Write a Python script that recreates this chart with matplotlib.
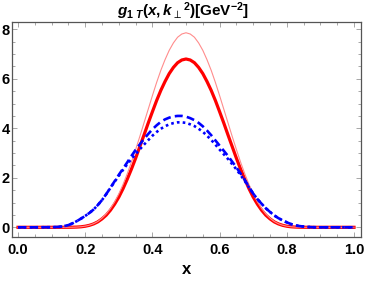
import matplotlib
matplotlib.use("Agg")
import matplotlib.pyplot as plt
from matplotlib.ticker import MultipleLocator

plt.rcParams['font.family'] = ['Liberation Sans', 'DejaVu Sans']
plt.rcParams['mathtext.fontset'] = 'custom'
plt.rcParams['mathtext.rm'] = 'Liberation Sans:bold'
plt.rcParams['mathtext.it'] = 'Liberation Sans:bold:italic'
plt.rcParams['mathtext.bf'] = 'Liberation Sans:bold'

# x grid
x = [0.0, 0.05, 0.1,
     0.1125, 0.125, 0.1375, 0.15, 0.1625, 0.175, 0.1875, 0.2,
     0.2125, 0.225, 0.2375, 0.25, 0.2625, 0.275, 0.2875, 0.3,
     0.3125, 0.325, 0.3375, 0.35, 0.3625, 0.375, 0.3875, 0.4,
     0.4125, 0.425, 0.4375, 0.45, 0.4625, 0.475, 0.4875, 0.5,
     0.5125, 0.525, 0.5375, 0.55, 0.5625, 0.575, 0.5875, 0.6,
     0.6125, 0.625, 0.6375, 0.65, 0.6625, 0.675, 0.6875, 0.7,
     0.7125, 0.725, 0.7375, 0.75, 0.7625, 0.775, 0.7875, 0.8,
     0.8125, 0.825, 0.8375, 0.85, 0.8625, 0.875, 0.8875,
     0.9, 0.95, 1.0]

# thin light-red curve
red_thin = [0, 0, 0,
            0, 0, 0.0003, 0.001, 0.0035, 0.0095, 0.022, 0.046,
            0.085, 0.146, 0.235, 0.37, 0.54, 0.76, 1.03, 1.35,
            1.73, 2.16, 2.63, 3.14, 3.67, 4.22, 4.77, 5.32,
            5.85, 6.34, 6.77, 7.15, 7.45, 7.68, 7.81, 7.86,
            7.81, 7.68, 7.45, 7.15, 6.77, 6.34, 5.85, 5.32,
            4.77, 4.22, 3.67, 3.14, 2.63, 2.16, 1.73, 1.35,
            1.03, 0.76, 0.54, 0.37, 0.235, 0.146, 0.085, 0.046,
            0.022, 0.0095, 0.0035, 0.001, 0.0003, 0, 0,
            0, 0, 0]

# thick red curve
red_thick = [0, 0, 0,
             0, 0, 0.0003, 0.0012, 0.0036, 0.0094, 0.021, 0.043,
             0.080, 0.137, 0.22, 0.34, 0.49, 0.69, 0.935, 1.22,
             1.56, 1.94, 2.35, 2.79, 3.26, 3.73, 4.21, 4.67,
             5.12, 5.53, 5.89, 6.21, 6.46, 6.65, 6.76, 6.80,
             6.76, 6.65, 6.46, 6.21, 5.89, 5.53, 5.12, 4.67,
             4.21, 3.73, 3.26, 2.79, 2.35, 1.94, 1.56, 1.22,
             0.935, 0.69, 0.49, 0.34, 0.22, 0.137, 0.080, 0.043,
             0.021, 0.0094, 0.0036, 0.0012, 0.0003, 0, 0,
             0, 0, 0]

# blue dashed curve
blue_dashed = [0, 0, 0.004,
               0.01, 0.02, 0.05, 0.09, 0.16, 0.25, 0.35, 0.46,
               0.58, 0.72, 0.90, 1.10, 1.34, 1.60, 1.86, 2.12,
               2.37, 2.62, 2.88, 3.13, 3.35, 3.57, 3.77, 3.96,
               4.12, 4.26, 4.36, 4.43, 4.48, 4.50, 4.50, 4.47,
               4.41, 4.33, 4.22, 4.08, 3.91, 3.72, 3.51, 3.30,
               3.09, 2.88, 2.65, 2.42, 2.17, 1.91, 1.63, 1.36,
               1.14, 0.95, 0.77, 0.62, 0.48, 0.37, 0.28, 0.20,
               0.13, 0.08, 0.05, 0.03, 0.015, 0.005, 0,
               0, 0, 0]

# blue dotted curve
blue_dotted = [0, 0, 0.004,
               0.01, 0.02, 0.05, 0.09, 0.16, 0.25, 0.35, 0.46,
               0.58, 0.72, 0.90, 1.10, 1.34, 1.59, 1.84, 2.08,
               2.32, 2.55, 2.76, 2.96, 3.15, 3.34, 3.52, 3.70,
               3.85, 3.98, 4.08, 4.16, 4.21, 4.24, 4.24, 4.22,
               4.16, 4.09, 3.98, 3.86, 3.70, 3.53, 3.34, 3.14,
               2.95, 2.76, 2.55, 2.34, 2.11, 1.87, 1.61, 1.36,
               1.14, 0.95, 0.77, 0.62, 0.48, 0.37, 0.28, 0.20,
               0.13, 0.08, 0.05, 0.03, 0.015, 0.005, 0,
               0, 0, 0]

xticks = [0.0, 0.2, 0.4, 0.6, 0.8, 1.0]
xticklabels = ["0.0", "0.2", "0.4", "0.6", "0.8", "1.0"]
yticks = [0, 2, 4, 6, 8]
yticklabels = ["0", "2", "4", "6", "8"]

fig = plt.figure(figsize=(3.66, 2.82), dpi=100)
ax = fig.add_axes([12/366, 45/282, 349/366, 215/282])

ax.plot(x, red_thick, color='#ff0000', lw=2.3, zorder=3)
ax.plot(x, red_thin, color='#ff8c8c', lw=0.8, zorder=3)
ax.plot(x, blue_dashed, color='#0000ff', lw=1.9, dashes=(3.0, 1.6), zorder=4)
ax.plot(x, blue_dotted, color='#0000ff', lw=1.9, dashes=(1.0, 1.2), zorder=4)

ax.set_xlim(-0.0179, 1.0208)
ax.set_ylim(-0.392, 8.295)

ax.set_xticks(xticks)
ax.set_xticklabels(xticklabels)
ax.set_yticks(yticks)
ax.set_yticklabels(yticklabels)
ax.xaxis.set_minor_locator(MultipleLocator(0.05))
ax.yaxis.set_minor_locator(MultipleLocator(0.5))

for lab in ax.get_xticklabels() + ax.get_yticklabels():
    lab.set_fontweight('bold')
    lab.set_fontsize(10.5)

ax.tick_params(which='both', direction='in', top=True, right=True, colors='#999999',
               labelcolor='black', width=0.6)
ax.tick_params(which='major', length=3.5)
ax.tick_params(which='minor', length=2)
ax.tick_params(axis='x', which='major', pad=4)
ax.tick_params(axis='y', which='major', pad=1.5)

for s in ax.spines.values():
    s.set_color('#555555')
    s.set_linewidth(0.9)

ax.set_xlabel('x', fontsize=12, fontweight='bold', labelpad=4)
ax.set_title(r'$g_{1\ T}(x,k_{\perp}{}^{2})[\mathrm{GeV}^{-2}]$', fontsize=11, pad=4,
             x=0.49)

fig.savefig('out.png', dpi=100)
